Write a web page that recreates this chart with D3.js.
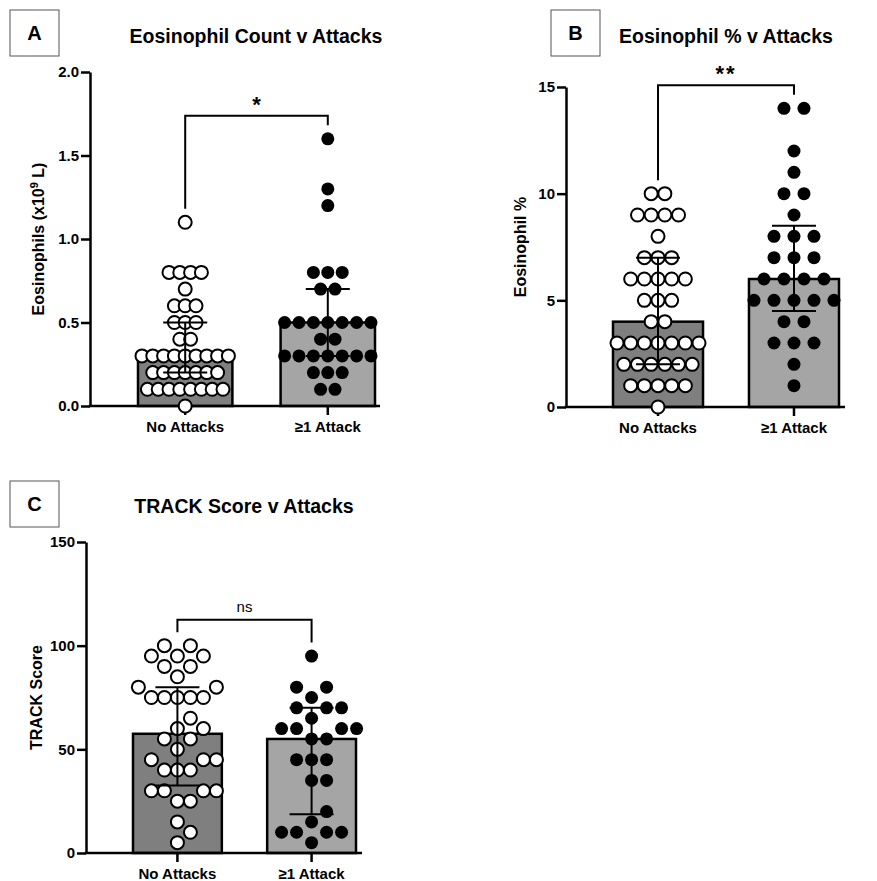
<!DOCTYPE html>
<html>
<head>
<meta charset="utf-8">
<script src="https://cdn.jsdelivr.net/npm/d3@7"></script>
<style>
  body { margin: 0; background: #fff; }
  text { font-family: "Liberation Sans", Arial, sans-serif; }
</style>
</head>
<body>
<svg id="fig" width="877" height="881"></svg>
<script>
// groups on the x axis
const groups = ["No Attacks", "≥1 Attack"];

// A - eosinophil count (x10^9 L)
const countNone = [1.1, 0.8, 0.8, 0.8, 0.8, 0.7, 0.6, 0.6, 0.6, 0.5, 0.5, 0.5, 0.4, 0.4,
    0.3, 0.3, 0.3, 0.3, 0.3, 0.3, 0.3, 0.3, 0.3, 0.2, 0.2, 0.2, 0.2, 0.2, 0.2, 0.2,
    0.1, 0.1, 0.1, 0.1, 0.1, 0.1, 0.1, 0.1, 0.0];
const countAttack = [1.6, 1.3, 1.2, 0.8, 0.8, 0.8, 0.7, 0.7, 0.5, 0.5, 0.5, 0.5, 0.5, 0.5, 0.5,
    0.4, 0.4, 0.3, 0.3, 0.3, 0.3, 0.3, 0.3, 0.3, 0.2, 0.2, 0.2, 0.1, 0.1];

// B - eosinophil %
const pctNone = [10, 10, 9, 9, 9, 9, 8, 7, 7, 7, 6, 6, 6, 6, 6, 5, 5, 5, 4, 4,
    3, 3, 3, 3, 3, 3, 3, 2, 2, 2, 2, 2, 2, 1, 1, 1, 1, 1, 0];
const pctAttack = [14, 14, 12, 11, 10, 10, 9, 8, 8, 8, 7, 7, 7, 6, 6, 6, 6,
    5, 5, 5, 5, 5, 4, 4, 3, 3, 3, 2, 1];

// C - TRACK score
const trackNone = [100, 100, 95, 95, 95, 90, 90, 85, 80, 80, 75, 75, 75, 75, 75, 65, 60, 60,
    55, 55, 50, 45, 45, 45, 40, 40, 40, 30, 30, 30, 30, 25, 25, 15, 10, 5];
const trackAttack = [95, 80, 80, 75, 70, 70, 70, 65, 60, 60, 60, 60, 55, 55,
    45, 45, 45, 35, 35, 20, 15, 10, 10, 10, 10, 5];

// axis ticks
const countTicks = [0, 0.5, 1.0, 1.5, 2.0];
const pctTicks = [0, 5, 10, 15];
const trackTicks = [0, 50, 100, 150];

const titles = ["Eosinophil Count v Attacks", "Eosinophil % v Attacks", "TRACK Score v Attacks"];
const sigLabels = ["*", "**", "ns"];

const svg = d3.select("#fig");
const R = 6.5;
const barFill = ["#7f7f7f", "#a5a5a5"];

// GraphPad style quartiles: (n+1)p
function quart(vals, p) {
    let s = vals.slice().sort((a, b) => a - b);
    let h = (s.length + 1) * p - 1;
    let lo = Math.max(0, Math.floor(h));
    let hi = Math.min(s.length - 1, lo + 1);
    return s[lo] + (h - Math.floor(h)) * (s[hi] - s[lo]);
}

// rows of equal values, centred on the column
function rowLayout(vals, cx, y, spacing){
    let counts = d3.rollup(vals, v => v.length, d => d);
    let seen = new Map();
    return vals.map(v => {
        let n = counts.get(v);
        let i = seen.get(v) || 0;
        seen.set(v, i + 1);
        return {v: v, x: cx + (i - (n - 1) / 2) * spacing, y: y(v)};
    });
}

// simple beeswarm for crowded columns (lowest values first)
function swarmLayout(vals, cx, y, step, minDist){
    let placed = [];
    vals.slice().sort((a, b) => a - b).forEach(v => {
        let py = y(v);
        for(let k = 0; k < 40; k++){
            let off = (k % 2 === 1 ? 1 : -1) * Math.ceil(k / 2) * step;
            let px = cx + off;
            let ok = placed.every(p => Math.hypot(p.x - px, p.y - py) >= minDist - 0.01);
            if(ok){ placed.push({v: v, x: px, y: py}); break; }
        }
    });
    return placed;
}

function drawPanel(cfg){
    let g = svg.append("g");

    // letter box
    g.append("rect")
        .attr("x", cfg.box[0]).attr("y", cfg.box[1])
        .attr("width", 49).attr("height", 46)
        .attr("fill", "none").attr("stroke", "#555").attr("stroke-width", 1);
    g.append("text")
        .attr("x", cfg.box[0] + 24.5).attr("y", cfg.box[1] + 30)
        .attr("text-anchor", "middle").attr("font-size", 20).attr("font-weight", "bold")
        .text(cfg.letter);

    g.append("text")
        .attr("x", cfg.titleX).attr("y", cfg.titleY)
        .attr("text-anchor", "middle").attr("font-size", 19.5).attr("font-weight", "bold")
        .text(cfg.title);

    let y = d3.scaleLinear().domain([0, cfg.ticks[cfg.ticks.length - 1]]).range([cfg.y0, cfg.y1]);
    let x = d3.scaleBand().domain(groups).range(cfg.xr).paddingInner(0.338);

    // y axis
    let yAxis = d3.axisLeft(y).tickValues(cfg.ticks).tickSize(9).tickSizeOuter(0)
        .tickFormat(cfg.fmt);
    let ya = g.append("g").attr("transform", "translate(" + cfg.axisX + ",0)").call(yAxis);
    ya.attr("font-size", null).attr("font-family", null);
    ya.select(".domain").attr("stroke-width", 2.5);
    ya.selectAll(".tick line").attr("stroke-width", 2.5);
    ya.selectAll(".tick text")
        .style("font-size", "15px").style("font-weight", "bold")
        .attr("x", -11);

    // y title
    let yt = g.append("text")
        .attr("transform", "translate(" + cfg.yTitleX + "," + ((cfg.y0 + cfg.y1) / 2) + ") rotate(-90)")
        .attr("text-anchor", "middle").attr("font-size", 16).attr("font-weight", "bold");
    cfg.yTitle(yt);

    let data = [cfg.vals[0], cfg.vals[1]];

    // bars (median)
    g.selectAll(".bar").data(data).enter().append("rect")
        .attr("x", (d, i) => x(groups[i]))
        .attr("y", d => y(quart(d, 0.5)))
        .attr("width", x.bandwidth())
        .attr("height", d => cfg.y0 - y(quart(d, 0.5)))
        .attr("fill", (d, i) => barFill[i])
        .attr("stroke", "#000").attr("stroke-width", 2.5);

    // x axis
    let xAxis = d3.axisBottom(x).tickSize(9).tickSizeOuter(0);
    let xa = g.append("g").attr("transform", "translate(0," + cfg.y0 + ")").call(xAxis);
    xa.attr("font-size", null).attr("font-family", null);
    xa.select(".domain").remove();
    xa.selectAll(".tick line").attr("stroke-width", 2.5);
    xa.selectAll(".tick text")
        .style("font-size", "15px").style("font-weight", "bold")
        .attr("dy", null).attr("y", 26);
    g.append("line")
        .attr("x1", cfg.axisX - 1.25).attr("x2", cfg.xEnd)
        .attr("y1", cfg.y0).attr("y2", cfg.y0)
        .attr("stroke", "#000").attr("stroke-width", 2.5);

    // dots
    data.forEach((vals, i) => {
        let cx = x(groups[i]) + x.bandwidth() / 2;
        let pts;
        if(cfg.swarm){
            pts = swarmLayout(vals, cx, y, cfg.swarm[i], cfg.swarm[i]);
        } else {
            let maxRow = d3.max(d3.rollup(vals, v => v.length, d => d).values());
            let sp = Math.min(20, (x.bandwidth() - 8) / Math.max(1, maxRow - 1));
            pts = rowLayout(vals, cx, y, sp);
        }
        g.selectAll(".dot" + i).data(pts).enter().append("circle")
            .attr("cx", d => d.x).attr("cy", d => d.y).attr("r", R)
            .attr("fill", i === 0 ? "#fff" : "#000")
            .attr("stroke", "#000").attr("stroke-width", i === 0 ? 2 : 0);
    });

    // median with interquartile range
    data.forEach((vals, i) => {
        let cx = x(groups[i]) + x.bandwidth() / 2;
        let q1 = y(quart(vals, 0.25)), q3 = y(quart(vals, 0.75));
        g.append("line").attr("x1", cx).attr("x2", cx).attr("y1", q1).attr("y2", q3)
            .attr("stroke", "#000").attr("stroke-width", 2);
        [q1, q3].forEach(q => {
            g.append("line").attr("x1", cx - 22).attr("x2", cx + 22).attr("y1", q).attr("y2", q)
                .attr("stroke", "#000").attr("stroke-width", 2);
        });
    });

    // significance bracket
    let c0 = x(groups[0]) + x.bandwidth() / 2;
    let c1 = x(groups[1]) + x.bandwidth() / 2;
    let top = y(Math.max(d3.max(data[0]), d3.max(data[1]))) - cfg.bracketGap;
    let leg0 = y(d3.max(data[0])) - R - 7;
    let leg1 = y(d3.max(data[1])) - R - 7;
    g.append("path")
        .attr("d", "M" + c0 + "," + leg0 + "V" + top + "H" + c1 + "V" + leg1)
        .attr("fill", "none").attr("stroke", "#000").attr("stroke-width", 2);
    g.append("text")
        .attr("x", (c0 + c1) / 2).attr("y", top - (cfg.sig === "ns" ? 8 : 4))
        .attr("text-anchor", "middle")
        .attr("font-size", cfg.sig === "ns" ? 15 : 22)
        .attr("font-weight", cfg.sig === "ns" ? "normal" : "bold")
        .attr("letter-spacing", cfg.sig === "**" ? 2 : 0)
        .text(cfg.sig);
}

drawPanel({
    letter: "A", box: [10, 10], title: titles[0], titleX: 256, titleY: 43,
    vals: [countNone, countAttack], ticks: countTicks, fmt: d3.format(".1f"),
    y0: 406, y1: 72, axisX: 90, xr: [138, 375], xEnd: 380,
    yTitleX: 44, bracketGap: 23, sig: sigLabels[0],
    yTitle: t => {
        t.append("tspan").text("Eosinophils (x10");
        t.append("tspan").attr("font-size", 11).attr("dy", -6).text("9");
        t.append("tspan").attr("dy", 6).text(" L)");
    }
});

drawPanel({
    letter: "B", box: [551, 10], title: titles[1], titleX: 726, titleY: 43,
    vals: [pctNone, pctAttack], ticks: pctTicks, fmt: d3.format("d"),
    y0: 407, y1: 87, axisX: 566, xr: [613, 839], xEnd: 845,
    yTitleX: 526, bracketGap: 23, sig: sigLabels[1],
    yTitle: t => t.text("Eosinophil %")
});

drawPanel({
    letter: "C", box: [10, 481], title: titles[2], titleX: 244, titleY: 513,
    vals: [trackNone, trackAttack], ticks: trackTicks, fmt: d3.format("d"),
    y0: 853, y1: 542, axisX: 86, xr: [133, 356], xEnd: 362,
    yTitleX: 42, bracketGap: 26, sig: sigLabels[2], swarm: [13, 15],
    yTitle: t => t.text("TRACK Score")
});
</script>
</body>
</html>
